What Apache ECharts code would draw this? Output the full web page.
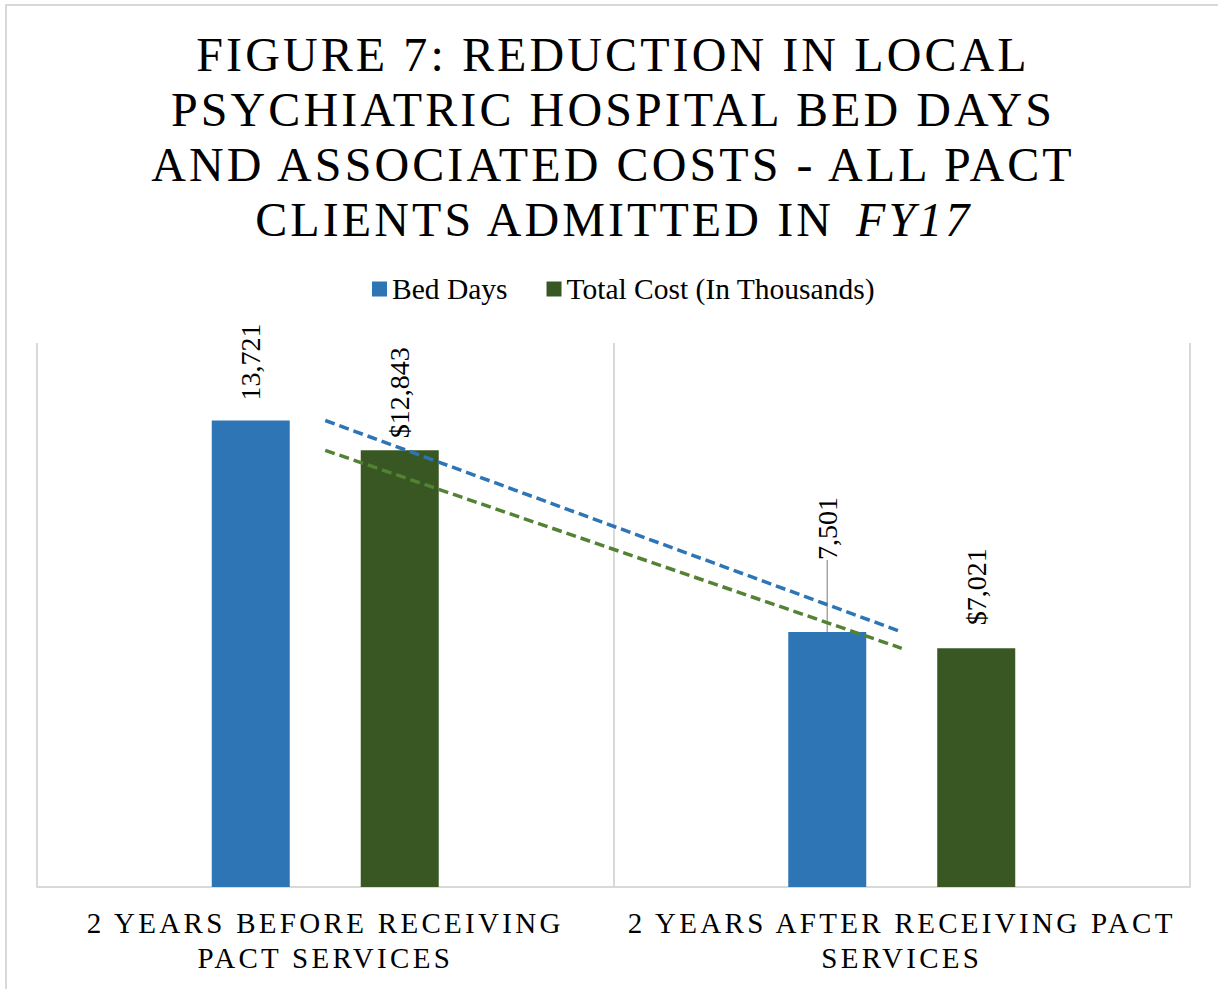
<!DOCTYPE html>
<html>
<head>
<meta charset="utf-8">
<script src="https://cdn.jsdelivr.net/npm/echarts@6/dist/echarts.min.js"></script>
<style>
  html, body { margin: 0; padding: 0; background: #ffffff; }
  #chart { width: 1218px; height: 989px; }
</style>
</head>
<body>
<div id="chart"></div>
<script>
// Chart text
const titleLines = [
  'FIGURE 7: REDUCTION IN LOCAL',
  'PSYCHIATRIC HOSPITAL BED DAYS',
  'AND ASSOCIATED COSTS - ALL PACT'
];
const titleLastLine = 'CLIENTS ADMITTED IN';
const titleFiscalYear = 'FY17';

// Categories (two-line axis labels)
const categories = [
  '2 YEARS BEFORE RECEIVING\nPACT SERVICES',
  '2 YEARS AFTER RECEIVING PACT\nSERVICES'
];

// Series
const seriesNames = ['Bed Days', 'Total Cost (In Thousands)'];
const bedDays = [13721, 7501];
const totalCost = [12843, 7021];

// Value axis range
const valueMin = 0;
const valueMax = 16000;

const FONT = 'Liberation Serif';
const BLUE = '#2E75B6';
const GREEN = '#385723';
const GREEN_TREND = '#548235';

// Least-squares linear trend across the category positions 1..n
function linearTrend(values) {
  const n = values.length;
  const xs = values.map((_, i) => i + 1);
  const mx = xs.reduce((a, b) => a + b, 0) / n;
  const my = values.reduce((a, b) => a + b, 0) / n;
  let sxy = 0, sxx = 0;
  xs.forEach((x, i) => { sxy += (x - mx) * (values[i] - my); sxx += (x - mx) * (x - mx); });
  const slope = sxy / sxx;
  const intercept = my - slope * mx;
  return xs.map(x => intercept + slope * x);
}

const fmt = v => Number(v).toLocaleString('en-US');

const labelBase = {
  show: true,
  position: 'top',
  rotate: 90,
  align: 'left',
  verticalAlign: 'middle',
  fontFamily: FONT,
  fontSize: 28,
  color: '#000'
};

// gap between bar top and its rotated value label
const bedLabelGap = [20, 5];
const costLabelGap = [12, 23];

const chart = echarts.init(document.getElementById('chart'), null, { renderer: 'svg' });

const titleStyle = { fontFamily: FONT, fontSize: 48, fontWeight: 'normal', color: '#000', lineHeight: 56 };
const lineCenters = [54.5, 109.5, 164.5, 219.5];

const option = {
  animation: false,
  backgroundColor: '#ffffff',
  graphic: [{
    type: 'rect',
    shape: { x: 6, y: 5, width: 1240, height: 1010 },
    style: { fill: 'none', stroke: '#d9d9d9', lineWidth: 2 },
    silent: true
  }],
  title: titleLines.map((t, i) => ({
    text: t,
    left: 613,
    top: lineCenters[i] - 28,
    textAlign: 'center',
    padding: 0,
    textStyle: titleStyle
  })).concat([
    {
      text: titleLastLine,
      left: 834,
      top: lineCenters[3] - 28,
      textAlign: 'right',
      padding: 0,
      textStyle: titleStyle
    },
    {
      text: titleFiscalYear,
      left: 856,
      top: lineCenters[3] - 28,
      textAlign: 'left',
      padding: 0,
      textStyle: Object.assign({}, titleStyle, { fontStyle: 'italic' })
    }
  ]),
  legend: {
    data: seriesNames,
    left: 372,
    top: 274,
    padding: 0,
    icon: 'rect',
    itemWidth: 15,
    itemHeight: 15,
    itemGap: 39,
    selectedMode: false,
    textStyle: { fontFamily: FONT, fontSize: 29.5, color: '#000', lineHeight: 30 }
  },
  grid: { left: 37, right: 28, top: 343, bottom: 102, containLabel: false },
  xAxis: {
    type: 'category',
    data: categories,
    boundaryGap: true,
    axisLine: { show: true, lineStyle: { color: '#d9d9d9', width: 2 } },
    axisTick: { show: false },
    splitLine: { show: true, lineStyle: { color: '#d9d9d9', width: 2 } },
    axisLabel: {
      interval: 0,
      margin: 18,
      fontFamily: FONT,
      fontSize: 29,
      lineHeight: 35,
      color: '#000'
    }
  },
  yAxis: {
    type: 'value',
    min: valueMin,
    max: valueMax,
    show: false,
    splitLine: { show: false }
  },
  series: [
    {
      name: seriesNames[0],
      type: 'bar',
      barWidth: 78,
      barGap: '91%',
      itemStyle: { color: BLUE },
      data: bedDays.map((v, i) => (i === 1
        ? {
            value: v,
            label: { distance: bedLabelGap[i], padding: [0, 0, 0, 8] },
            labelLine: { show: true, lineStyle: { color: '#a6a6a6', width: 1.5 } }
          }
        : { value: v, label: { distance: bedLabelGap[i] } })),
      label: Object.assign({}, labelBase, { formatter: p => fmt(p.value) }),
      labelLine: { show: false },
      // the rotated label's local x axis points up the page
      labelLayout: p => (p.dataIndex === 1 ? { dx: 59 } : {})
    },
    {
      name: seriesNames[1],
      type: 'bar',
      barWidth: 78,
      barGap: '91%',
      itemStyle: { color: GREEN },
      data: totalCost.map((v, i) => ({ value: v, label: { distance: costLabelGap[i] } })),
      label: Object.assign({}, labelBase, { formatter: p => '$' + fmt(p.value) })
    },
    {
      name: seriesNames[0] + ' trend',
      type: 'line',
      data: linearTrend(bedDays),
      symbol: 'none',
      silent: true,
      z: 5,
      lineStyle: { color: BLUE, width: 3.5, type: [10, 5] }
    },
    {
      name: seriesNames[1] + ' trend',
      type: 'line',
      data: linearTrend(totalCost),
      symbol: 'none',
      silent: true,
      z: 5,
      lineStyle: { color: GREEN_TREND, width: 3.5, type: [10, 5] }
    }
  ]
};

chart.setOption(option);

// Expanded character spacing for the title and category labels
const titleSpaced = new Set(titleLines.concat([titleLastLine, titleFiscalYear]));
const axisSpaced = new Set(categories.flatMap(c => c.split('\n')));
function applyLetterSpacing() {
  document.querySelectorAll('#chart svg text').forEach(t => {
    const s = t.textContent;
    if (titleSpaced.has(s)) t.style.letterSpacing = '3.1px';
    else if (axisSpaced.has(s)) t.style.letterSpacing = '3.3px';
  });
}
chart.on('rendered', applyLetterSpacing);
applyLetterSpacing();
</script>
</body>
</html>
